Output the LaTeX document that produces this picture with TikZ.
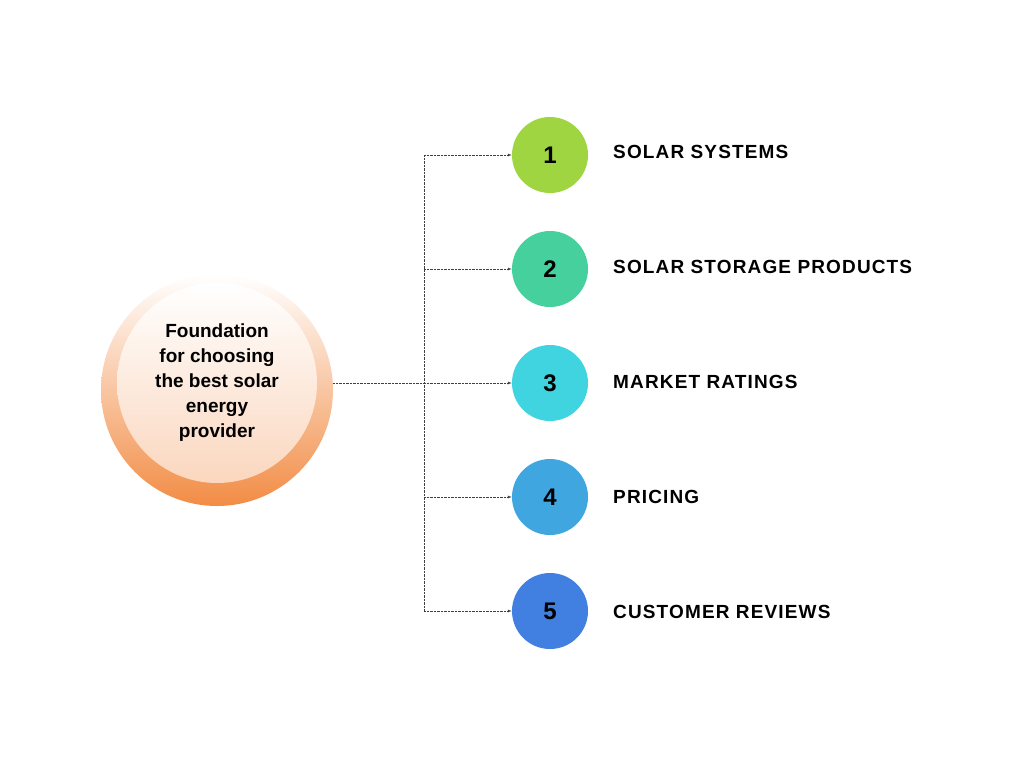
\documentclass[tikz,border=0pt]{standalone}
\usepackage{fontspec}
\setmainfont{Liberation Sans}
\usetikzlibrary{positioning}
\definecolor{cone}{HTML}{9ED540}
\definecolor{ctwo}{HTML}{45D09E}
\definecolor{cthree}{HTML}{40D3E0}
\definecolor{cfour}{HTML}{3FA6E0}
\definecolor{cfive}{HTML}{4180E0}
\definecolor{corange}{HTML}{F28C45}
\begin{document}
\begin{tikzpicture}
      [x=1pt,y=-1pt
      ,num/.style={circle,minimum size=76pt,inner sep=0pt,font=\fontsize{24}{24}\selectfont\bfseries}
      ,lab/.style={anchor=west,inner sep=0pt,font=\fontsize{19}{19}\selectfont\bfseries}
      ,con/.style={densely dotted,black!75,thin}
      ,arr/.style={con,-latex}
      ]
        \useasboundingbox (0,0) rectangle (1024,768);
        \shade[top color=white,bottom color=corange] (217,390) circle (116);
        \shade[top color=white,bottom color=corange!35] (217,383) circle (100);
        \node[align=center,font=\fontsize{19}{25}\selectfont\bfseries] (main) at (217,383)
          {Foundation\\for choosing\\the best solar\\energy\\provider};
        \coordinate (out) at (333,383);
        \foreach \i/\c/\t in {1/cone/SOLAR SYSTEMS,2/ctwo/SOLAR STORAGE PRODUCTS,3/cthree/MARKET RATINGS,4/cfour/PRICING,5/cfive/CUSTOMER REVIEWS}{
          \node[num,fill=\c] (n\i) at (550,41+114*\i) {\i};
          \node[lab] (l\i) at (613,37+115*\i) {\addfontfeature{LetterSpace=6}\t};
          \coordinate (b\i) at (424,41+114*\i);
          \draw[arr] (b\i) -- (n\i);
        }
        \draw[con] (b1) -- (b5);
        \draw[con] (out) -- (b3);
      \end{tikzpicture}
\end{document}
